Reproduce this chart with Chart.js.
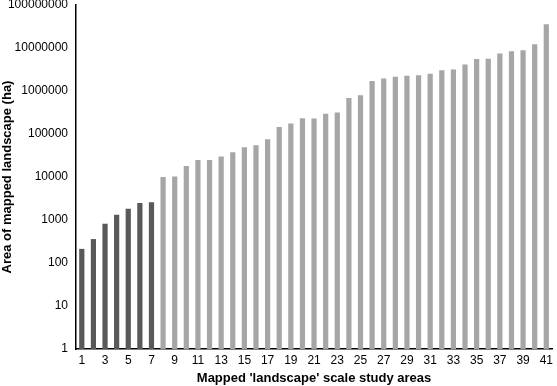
<!DOCTYPE html>
<html>
<head>
<meta charset="utf-8">
<script src="https://cdn.jsdelivr.net/npm/chart.js@4.4.1/dist/chart.umd.min.js"></script>
<style>
  html, body { margin: 0; padding: 0; background: #fff; }
  #wrap { width: 557px; height: 386px; position: relative; }
</style>
</head>
<body>
<div id="wrap"><canvas id="area_chart"></canvas></div>
<script>
// study areas 1..41
const study_areas = [];
for (let i = 1; i <= 41; i++) study_areas.push(String(i));

// area of mapped landscape (ha)
const mapped_area = [
    213, 360, 820, 1320, 1830, 2500, 2570,
    10000, 10300, 18000, 25000, 25000, 30000, 37500, 49000, 55000, 75000,
    145000, 175000, 232000, 228000, 297000, 315000, 690000, 795000,
    1700000, 1940000, 2140000, 2270000, 2330000, 2530000, 3030000, 3180000,
    4150000, 5520000, 5600000, 7400000, 8400000, 8900000, 12200000, 35500000
];
// first seven areas are shown darker
const dark_count = 7;
const y_ticks = [1, 10, 100, 1000, 10000, 100000, 1000000, 10000000, 100000000];

const bar_colors = mapped_area.map((v, i) => i < dark_count ? '#595959' : '#a6a6a6');

const area_chart = document.getElementById('area_chart');
new Chart(area_chart, {
    type: 'bar',
    data: {
        labels: study_areas,
        datasets: [{
            data: mapped_area,
            backgroundColor: bar_colors,
            borderWidth: 0,
            barPercentage: 0.9,
            categoryPercentage: 0.5
        }]
    },
    options: {
        responsive: true,
        maintainAspectRatio: false,
        animation: false,
        layout: { padding: { top: 5, right: 2, left: 0, bottom: 0 } },
        plugins: {
            legend: { display: false },
            tooltip: { enabled: false }
        },
        scales: {
            x: {
                grid: { display: false, drawTicks: false },
                border: { color: '#000', width: 1.5 },
                afterFit: function (axis) {
                    axis.height = 37;
                },
                ticks: {
                    color: '#000',
                    autoSkip: false,
                    maxRotation: 0,
                    padding: 4,
                    font: { family: 'Liberation Sans', size: 12 },
                    callback: function (val, idx) {
                        return idx % 2 === 0 ? this.getLabelForValue(val) : '';
                    }
                },
                title: {
                    display: true,
                    text: "Mapped 'landscape' scale study areas",
                    color: '#000',
                    padding: { top: 3, bottom: 0 },
                    font: { family: 'Liberation Sans', size: 13, weight: 'bold' }
                }
            },
            y: {
                type: 'logarithmic',
                min: 1,
                max: 100000000,
                afterBuildTicks: function (axis) {
                    axis.ticks = y_ticks.map(v => ({ value: v }));
                },
                afterFit: function (axis) {
                    axis.width = 76;
                    axis.paddingTop = 0;
                    axis.paddingBottom = 0;
                },
                grid: { display: false, drawOnChartArea: false, tickLength: 4, color: '#000' },
                border: { color: '#000', width: 1.5 },
                ticks: {
                    color: '#000',
                    padding: 4,
                    font: { family: 'Liberation Sans', size: 12 },
                    callback: function (v) { return String(Math.round(v)); }
                },
                title: {
                    display: true,
                    text: 'Area of mapped landscape (ha)',
                    color: '#000',
                    padding: { top: 0, bottom: 2 },
                    font: { family: 'Liberation Sans', size: 13, weight: 'bold' }
                }
            }
        }
    }
});
</script>
</body>
</html>
